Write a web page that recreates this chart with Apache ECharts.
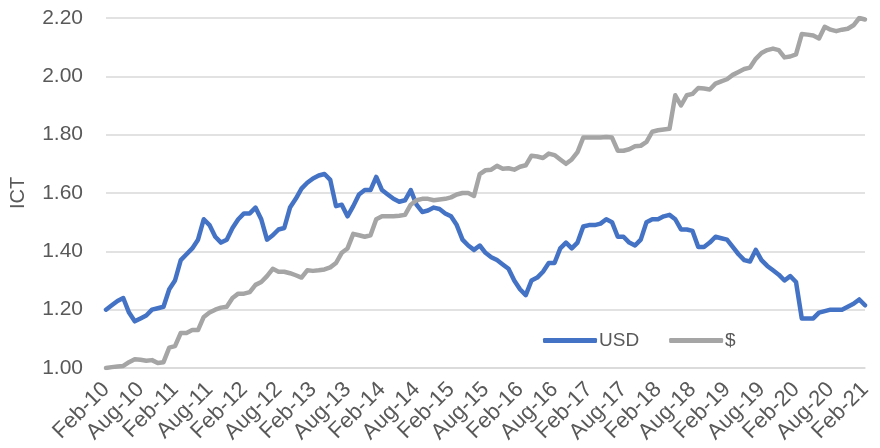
<!DOCTYPE html>
<html>
<head>
<meta charset="utf-8">
<script src="https://cdn.jsdelivr.net/npm/echarts@6/dist/echarts.min.js"></script>
<style>
  html, body { margin: 0; padding: 0; background: #fff; }
  #chart { width: 880px; height: 448px; }
</style>
</head>
<body>
<div id="chart"></div>
<script>
// monthly, Feb-10 .. Feb-21
const monthNames = ['Jan', 'Feb', 'Mar', 'Apr', 'May', 'Jun', 'Jul', 'Aug', 'Sep', 'Oct', 'Nov', 'Dec'];
const months = [];
for (let y = 2010, m = 1; y < 2021 || m <= 1; ) {
  months.push(monthNames[m] + '-' + String(y).slice(2));
  m++;
  if (m > 11) { m = 0; y++; }
}

const usd = [
  1.20, 1.215, 1.23, 1.24, 1.19, 1.16, 1.17, 1.18, 1.20, 1.205,
  1.21, 1.27, 1.30, 1.37, 1.39, 1.41, 1.44, 1.51, 1.49, 1.45,
  1.43, 1.44, 1.48, 1.51, 1.53, 1.53, 1.55, 1.51, 1.44, 1.455,
  1.475, 1.48, 1.55, 1.58, 1.615, 1.635, 1.65, 1.66, 1.665, 1.645,
  1.555, 1.56, 1.52, 1.555, 1.595, 1.61, 1.61, 1.655, 1.61, 1.595,
  1.58, 1.57, 1.575, 1.61, 1.56, 1.535, 1.54, 1.55, 1.545, 1.53,
  1.52, 1.49, 1.44, 1.42, 1.405, 1.42, 1.395, 1.38, 1.37, 1.355,
  1.34, 1.30, 1.27, 1.25, 1.30, 1.31, 1.33, 1.36, 1.36, 1.41,
  1.43, 1.41, 1.43, 1.485, 1.49, 1.49, 1.495, 1.51, 1.50, 1.45,
  1.45, 1.43, 1.42, 1.44, 1.50, 1.51, 1.51, 1.52, 1.525, 1.51,
  1.475, 1.475, 1.47, 1.415, 1.415, 1.43, 1.45, 1.445, 1.44, 1.415,
  1.39, 1.37, 1.365, 1.405, 1.37, 1.35, 1.335, 1.32, 1.30, 1.315,
  1.295, 1.17, 1.17, 1.17, 1.19, 1.195, 1.20, 1.20, 1.20, 1.21,
  1.22, 1.235, 1.215
];

const dollar = [
  1.00, 1.003, 1.005, 1.007, 1.02, 1.03, 1.028, 1.025, 1.027, 1.017,
  1.02, 1.07, 1.075, 1.12, 1.12, 1.13, 1.13, 1.175, 1.19, 1.20,
  1.207, 1.21, 1.24, 1.255, 1.255, 1.26, 1.285, 1.295, 1.315, 1.34,
  1.33, 1.33, 1.325, 1.318, 1.31, 1.335, 1.333, 1.335, 1.338, 1.345,
  1.36, 1.395, 1.41, 1.46, 1.455, 1.45, 1.455, 1.51, 1.52, 1.52,
  1.52, 1.522, 1.525, 1.56, 1.575, 1.58, 1.58, 1.575, 1.578, 1.58,
  1.585, 1.595, 1.60, 1.60, 1.59, 1.665, 1.678, 1.68, 1.693, 1.683,
  1.685, 1.68, 1.69, 1.695, 1.728, 1.725, 1.72, 1.735, 1.73, 1.715,
  1.70, 1.715, 1.74, 1.79, 1.79, 1.79, 1.79, 1.792, 1.79, 1.745,
  1.745, 1.75, 1.76, 1.762, 1.775, 1.81, 1.815, 1.818, 1.82, 1.935,
  1.90, 1.935, 1.94, 1.96, 1.958, 1.955, 1.975, 1.983, 1.99, 2.005,
  2.015, 2.025, 2.03, 2.06, 2.08, 2.09, 2.095, 2.09, 2.065, 2.068,
  2.075, 2.145, 2.143, 2.14, 2.13, 2.17, 2.16, 2.155, 2.16, 2.163,
  2.175, 2.20, 2.195
];

const font = 'Liberation Sans';
const textColor = '#595959';

const chart = echarts.init(document.getElementById('chart'), null, { renderer: 'canvas' });
chart.setOption({
  backgroundColor: '#ffffff',
  animation: false,
  textStyle: { fontFamily: font },
  grid: { left: 105, right: 15, top: 18, bottom: 80 },
  legend: {
    left: 538, top: 326,
    itemWidth: 54, itemHeight: 5, itemGap: 30,
    icon: 'roundRect',
    textStyle: { fontSize: 19, color: textColor, fontFamily: font, padding: [0, 0, 0, -3] },
    data: ['USD', '$']
  },
  xAxis: {
    type: 'category',
    data: months,
    boundaryGap: false,
    axisLine: { lineStyle: { color: '#d9d9d9', width: 1.5 } },
    axisTick: { show: false },
    axisLabel: {
      interval: 5,
      rotate: 45,
      fontSize: 22,
      color: textColor,
      fontFamily: font,
      margin: 18
    }
  },
  yAxis: {
    type: 'value',
    min: 1.0, max: 2.2, interval: 0.2,
    name: 'ICT',
    nameLocation: 'middle',
    nameGap: 78,
    nameTextStyle: { fontSize: 20, color: textColor, fontFamily: font },
    axisLine: { show: false },
    axisTick: { show: false },
    axisLabel: {
      fontSize: 21, color: textColor, fontFamily: font, margin: 23,
      formatter: v => v.toFixed(2)
    },
    splitLine: { lineStyle: { color: '#d9d9d9', width: 1.5 } }
  },
  series: [
    {
      name: 'USD', type: 'line', data: usd, showSymbol: false, symbol: 'none',
      color: '#4472C4',
      lineStyle: { width: 4.5, color: '#4472C4', cap: 'round', join: 'round' }
    },
    {
      name: '$', type: 'line', data: dollar, showSymbol: false, symbol: 'none',
      color: '#A5A5A5',
      lineStyle: { width: 4.5, color: '#A5A5A5', cap: 'round', join: 'round' }
    }
  ]
});
</script>
</body>
</html>
